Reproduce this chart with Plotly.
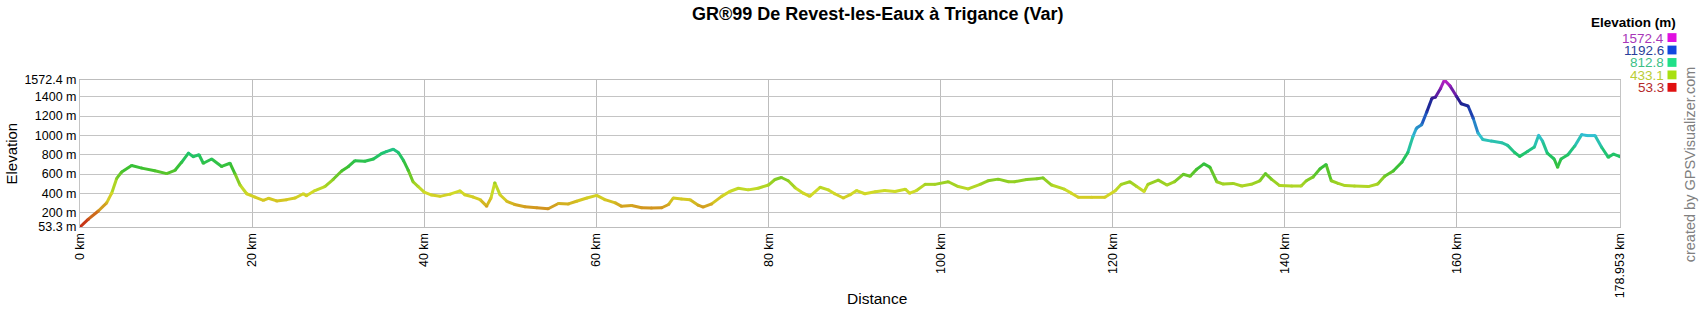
import plotly.graph_objects as go

# ---------------- data ----------------
dist_km = [0, 0.97, 2.13, 3.1, 3.68, 4.26, 4.84, 6.0, 7.17, 8.7, 10.07, 11.04, 11.8, 12.6,
           13.17, 13.83, 14.33, 15.3, 16.46, 17.43, 18.0, 18.6, 19.37, 20.33, 21.3, 21.9,
           22.85, 24.0, 25.0, 25.95, 26.3, 27.3, 28.45, 29.4, 30.4, 31.2, 31.95, 33.1, 34.1,
           35.05, 35.6, 36.4, 37.0, 37.6, 38.15, 38.7, 39.3, 40.0, 40.86, 41.83, 43.0, 44.15,
           44.7, 45.7, 46.5, 47.25, 47.76, 48.2, 48.8, 49.6, 50.5, 51.7, 53.07, 54.4, 55.6,
           56.76, 57.7, 58.9, 60.04, 61.0, 62.2, 62.9, 64.1, 65.26, 66.4, 67.6, 68.4, 68.94,
           69.9, 70.9, 71.84, 72.4, 73.4, 74.56, 75.5, 76.5, 77.65, 78.8, 80.0, 80.76, 81.5,
           82.3, 83.1, 84.05, 84.8, 86.0, 86.95, 87.7, 88.7, 89.5, 90.25, 91.2, 92.4, 93.5,
           94.7, 95.9, 96.4, 97.2, 98.2, 99.35, 100.9, 102.05, 103.2, 104.6, 105.5, 106.7,
           107.9, 108.6, 110.0, 111.2, 111.9, 112.9, 114.4, 115.2, 116.0, 117.55, 119.1,
           120.3, 121.0, 122.0, 122.8, 123.65, 124.1, 125.3, 126.3, 127.2, 128.2, 129.0,
           129.75, 130.6, 131.3, 132.1, 132.85, 134.0, 135.0, 136.1, 137.1, 137.75, 138.45,
           139.4, 140.8, 141.9, 142.5, 143.3, 144.1, 144.8, 145.4, 146.2, 147.0, 148.1,
           149.7, 150.8, 151.6, 152.6, 153.6, 154.3, 154.9, 155.3, 155.9, 156.5, 157.1,
           157.5, 158.1, 158.55, 159.2, 159.95, 160.5, 161.3, 161.9, 162.45, 163.0, 164.0,
           165.2, 165.9, 166.7, 167.3, 168.2, 169.0, 169.5, 169.95, 170.5, 171.3, 171.7,
           172.1, 172.9, 173.7, 174.5, 175.1, 176.05, 176.8, 177.6, 178.2, 178.953]
elev_m = [53.3, 134, 219, 303, 403, 555, 622, 689, 662, 635, 605, 639, 722, 817,
          780, 800, 712, 756, 679, 712, 605, 487, 397, 363, 329, 350,
          323, 336, 353, 397, 376, 430, 471, 544, 632, 679, 739, 733, 756,
          813, 833, 857, 823, 739, 639, 521, 471, 413, 383, 370, 393, 427,
          387, 363, 336, 269, 353, 511, 387, 319, 286, 262, 252, 242, 296,
          292, 319, 353, 380, 336, 303, 269, 276, 252, 249, 252, 286, 353,
          343, 336, 279, 259, 292, 370, 420, 454, 437, 454, 487, 544, 565,
          531, 460, 403, 370, 464, 437, 397, 353, 387, 430, 397, 417, 430,
          420, 444, 403, 430, 494, 494, 521, 471, 447, 494, 531, 548,
          521, 521, 545, 551, 561, 487, 444, 403, 360, 360, 360,
          427, 494, 521, 471, 420, 494, 538, 487, 521, 598, 578,
          649, 706, 672, 521, 497, 504, 477, 494, 531, 605, 548,
          481, 477, 477, 531, 571, 655, 699, 531, 504, 481, 477,
          471, 497, 578, 632, 723, 823, 991, 1075, 1109, 1243, 1384,
          1395, 1485, 1572.4, 1512, 1405, 1327, 1304, 1176, 1025, 958, 941,
          924, 897, 823, 783, 833, 880, 1001, 941, 817, 756, 672,
          756, 800, 891, 1008, 998, 998, 880, 773, 807, 780]

y_tick_vals = [53.3, 200, 400, 600, 800, 1000, 1200, 1400, 1572.4]
y_tick_text = ["53.3 m", "200 m", "400 m", "600 m", "800 m", "1000 m", "1200 m", "1400 m", "1572.4 m"]
x_tick_vals = [0, 20, 40, 60, 80, 100, 120, 140, 160, 178.953]
x_tick_text = ["0 km", "20 km", "40 km", "60 km", "80 km", "100 km", "120 km", "140 km", "160 km", "178.953 km"]

legend_vals = ["1572.4", "1192.6", "812.8", "433.1", "53.3"]
legend_text_colors = ["#a836b8", "#2a3f9a", "#3cbf86", "#b9cd35", "#b52a2a"]
legend_box_colors = ["#e010e0", "#1048e0", "#20e088", "#a8e010", "#e01010"]

title_text = "GR®99 De Revest-les-Eaux à Trigance (Var)"

# ---------------- style ----------------
FONT = "Liberation Sans, Arial, sans-serif"
W, H = 1700, 310
ML, MR, MT, MB = 80, 80, 80, 80
PW, PH = W - ML - MR, H - MT - MB

# elevation colour stops (elevation, rgb)
color_stops = [
    (53.3, (196, 30, 20)),
    (250, (210, 150, 30)),
    (330, (212, 198, 34)),
    (420, (208, 220, 40)),
    (520, (150, 208, 34)),
    (660, (60, 192, 48)),
    (812.8, (30, 196, 110)),
    (1000, (48, 192, 210)),
    (1192.6, (30, 80, 190)),
    (1350, (30, 28, 140)),
    (1572.4, (196, 30, 200)),
]


def elev_color(e):
    for (e0, c0), (e1, c1) in zip(color_stops[:-1], color_stops[1:]):
        if e <= e1:
            t = max(0.0, (e - e0) / (e1 - e0))
            r, g, b = (round(a + (bb - a) * t) for a, bb in zip(c0, c1))
            return f"rgb({r},{g},{b})"
    r, g, b = color_stops[-1][1]
    return f"rgb({r},{g},{b})"


def px_x(x):
    return (x - ML) / PW


def px_y(y):
    return (H - MB - y) / PH


fig = go.Figure()

for i in range(len(dist_km) - 1):
    emid = (elev_m[i] + elev_m[i + 1]) / 2
    fig.add_trace(go.Scatter(
        x=dist_km[i:i + 2], y=elev_m[i:i + 2], mode="lines",
        line=dict(color=elev_color(emid), width=3),
        hoverinfo="skip", showlegend=False,
    ))

fig.add_trace(go.Scatter(
    x=dist_km, y=elev_m, mode="markers",
    marker=dict(size=3, color=[elev_color(e) for e in elev_m], line=dict(width=0)),
    hoverinfo="skip", showlegend=False,
))

CENTER_X = 877
annotations = [
    dict(text=f"<b>{title_text}</b>", x=px_x(CENTER_X), y=px_y(13), xref="paper", yref="paper",
         showarrow=False, xanchor="center", yanchor="middle",
         font=dict(family=FONT, size=18, color="#000000")),
    dict(text="Elevation", x=px_x(11), y=0.5, xref="paper", yref="paper", textangle=-90,
         showarrow=False, xanchor="center", yanchor="middle",
         font=dict(family=FONT, size=15, color="#000000")),
    dict(text="Distance", x=px_x(CENTER_X), y=px_y(303), xref="paper", yref="paper",
         showarrow=False, xanchor="center", yanchor="middle",
         font=dict(family=FONT, size=15.5, color="#000000")),
    dict(text="<b>Elevation (m)</b>", x=px_x(1678), y=px_y(21), xref="paper", yref="paper",
         showarrow=False, xanchor="right", yanchor="middle",
         font=dict(family=FONT, size=13.5, color="#000000")),
    dict(text="created by GPSVisualizer.com", x=px_x(1690), y=px_y(166), xref="paper",
         yref="paper", textangle=-90, showarrow=False, xanchor="center", yanchor="middle",
         font=dict(family=FONT, size=14.5, color="#808080")),
]

shapes = []
row_y = [36.7, 49.4, 62.1, 74.8, 87.5]
for val, tc, bc, ry in zip(legend_vals, legend_text_colors, legend_box_colors, row_y):
    annotations.append(dict(
        text=val, x=px_x(1665), y=px_y(ry), xref="paper", yref="paper",
        showarrow=False, xanchor="right", yanchor="middle", height=12, borderpad=0,
        valign="middle",
        font=dict(family=FONT, size=13.5, color=tc)))
    shapes.append(dict(type="rect", xref="paper", yref="paper",
                       x0=px_x(1667.5), x1=px_x(1676.5), y0=px_y(ry + 4.5), y1=px_y(ry - 4.5),
                       fillcolor=bc, line=dict(width=0)))

fig.update_layout(
    width=W, height=H,
    margin=dict(l=ML, r=MR, t=MT, b=MB, pad=0),
    paper_bgcolor="#ffffff", plot_bgcolor="#ffffff",
    font=dict(family=FONT, size=12.5, color="#000000"),
    annotations=annotations, shapes=shapes,
    showlegend=False,
)
fig.update_xaxes(
    range=[0, 178.953], tickmode="array", tickvals=x_tick_vals, ticktext=x_tick_text,
    tickangle=-90, showgrid=True, gridcolor="#bdbdbd", gridwidth=1,
    showline=True, linecolor="#bdbdbd", linewidth=1, mirror=True,
    zeroline=False, ticks="", tickfont=dict(family=FONT, size=12.5, color="#000000"),
)
fig.update_yaxes(
    range=[53.3, 1572.4], tickmode="array", tickvals=y_tick_vals, ticktext=y_tick_text,
    showgrid=True, gridcolor="#c4c4c4", gridwidth=1,
    showline=True, linecolor="#c4c4c4", linewidth=1, mirror=True,
    zeroline=False, ticks="", tickfont=dict(family=FONT, size=12.5, color="#000000"),
)

fig.write_html("out.html")
